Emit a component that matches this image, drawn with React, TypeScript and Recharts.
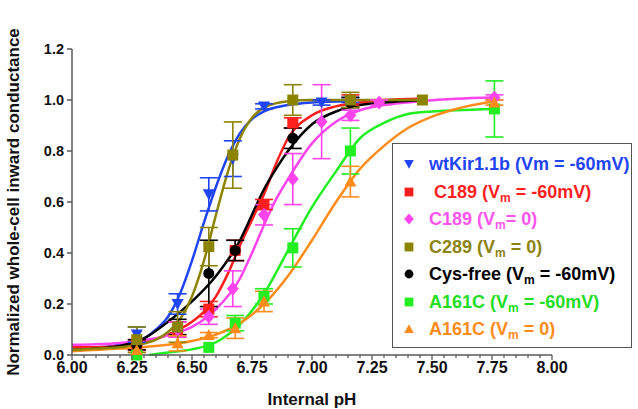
import React from "react";
import { ComposedChart, Line, Scatter, XAxis, YAxis, ErrorBar, Label } from "recharts";

const FONT = "'Liberation Sans', Arial, Helvetica, sans-serif";
const AXIS = "#5a5a5a";

// x axis tick labels (pH)
const majorTicks = [6, 6.25, 6.5, 6.75, 7, 7.25, 7.5, 7.75, 8];
const yTicks = [0, 0.2, 0.4, 0.6, 0.8, 1.0, 1.2];

// measured points: pH, normalized conductance, SEM
const wtPH = [6.27, 6.44, 6.57, 6.67, 6.8, 7.04, 7.16];
const wtG = [0.08, 0.2, 0.63, 0.77, 0.975, 0.99, 1.0];
const wtErr = [0.03, 0.04, 0.065, 0.07, 0.01, 0.01, 0.01];

const c189PH = [6.27, 6.44, 6.57, 6.68, 6.8, 6.92, 7.16];
const c189G = [0.04, 0.1, 0.18, 0.41, 0.59, 0.91, 1.0];
const c189Err = [0.02, 0.03, 0.03, 0.04, 0.02, 0.02, 0.02];

const c189v0PH = [6.27, 6.44, 6.57, 6.67, 6.8, 6.92, 7.04, 7.16, 7.28, 7.76];
const c189v0G = [0.04, 0.1, 0.15, 0.26, 0.55, 0.69, 0.915, 0.94, 0.99, 1.01];
const c189v0Err = [0.02, 0.03, 0.03, 0.07, 0.04, 0.1, 0.145, 0.02, 0.01, 0.01];

const c289PH = [6.27, 6.44, 6.57, 6.67, 6.92, 7.16, 7.46];
const c289G = [0.06, 0.11, 0.425, 0.784, 1.0, 1.0, 1.0];
const c289Err = [0.05, 0.06, 0.075, 0.13, 0.06, 0.03, 0.0];

const cysPH = [6.27, 6.44, 6.57, 6.68, 6.92, 7.16];
const cysG = [0.04, 0.11, 0.32, 0.41, 0.85, 0.99];
const cysErr = [0.02, 0.03, 0.13, 0.04, 0.04, 0.02];

const a161PH = [6.27, 6.57, 6.68, 6.8, 6.92, 7.16, 7.76];
const a161G = [0.0, 0.03, 0.125, 0.23, 0.42, 0.8, 0.965];
const a161Err = [0.0, 0.0, 0.03, 0.03, 0.075, 0.09, 0.11];

const a161v0PH = [6.27, 6.44, 6.57, 6.68, 6.8, 7.16, 7.76];
const a161v0G = [0.02, 0.046, 0.078, 0.105, 0.21, 0.68, 0.99];
const a161v0Err = [0.01, 0.03, 0.01, 0.04, 0.04, 0.06, 0.01];

// fitted curves
const wtFitPH = [6.0, 6.1, 6.2, 6.3, 6.35, 6.4, 6.45, 6.5, 6.55, 6.6, 6.65, 6.7, 6.75, 6.8, 6.9, 7.0, 7.16];
const wtFitG = [0.03, 0.03, 0.04, 0.065, 0.1, 0.15, 0.24, 0.37, 0.52, 0.66, 0.78, 0.87, 0.925, 0.955, 0.98, 0.99, 0.995];

const c189FitPH = [6.0, 6.1, 6.2, 6.3, 6.4, 6.5, 6.55, 6.6, 6.65, 6.7, 6.75, 6.8, 6.85, 6.9, 7.0, 7.1, 7.2, 7.3, 7.45];
const c189FitG = [0.03, 0.03, 0.035, 0.05, 0.08, 0.13, 0.17, 0.23, 0.32, 0.43, 0.53, 0.63, 0.75, 0.85, 0.94, 0.975, 0.99, 1.0, 1.005];

const c189v0FitPH = [6.0, 6.1, 6.2, 6.3, 6.4, 6.5, 6.6, 6.7, 6.75, 6.8, 6.85, 6.9, 7.0, 7.1, 7.2, 7.3, 7.45, 7.6, 7.76];
const c189v0FitG = [0.04, 0.042, 0.047, 0.058, 0.077, 0.11, 0.18, 0.3, 0.4, 0.51, 0.61, 0.69, 0.83, 0.915, 0.96, 0.98, 0.995, 1.005, 1.01];

const c289FitPH = [6.0, 6.1, 6.2, 6.3, 6.35, 6.4, 6.45, 6.5, 6.55, 6.6, 6.65, 6.7, 6.75, 6.8, 6.9, 7.0, 7.2, 7.46];
const c289FitG = [0.02, 0.025, 0.03, 0.045, 0.06, 0.09, 0.14, 0.23, 0.37, 0.55, 0.72, 0.85, 0.93, 0.97, 0.995, 1.0, 1.0, 1.0];

const cysFitPH = [6.0, 6.1, 6.2, 6.3, 6.4, 6.5, 6.6, 6.7, 6.75, 6.8, 6.85, 6.9, 7.0, 7.1, 7.2, 7.3, 7.46];
const cysFitG = [0.02, 0.025, 0.035, 0.065, 0.13, 0.21, 0.31, 0.45, 0.55, 0.65, 0.73, 0.8, 0.905, 0.955, 0.98, 0.99, 1.0];

const a161FitPH = [6.32, 6.4, 6.5, 6.6, 6.7, 6.8, 6.9, 7.0, 7.1, 7.2, 7.3, 7.4, 7.5, 7.6, 7.76];
const a161FitG = [0.0, 0.01, 0.022, 0.05, 0.12, 0.24, 0.41, 0.58, 0.72, 0.85, 0.91, 0.945, 0.955, 0.96, 0.965];

const a161v0FitPH = [6.0, 6.2, 6.4, 6.5, 6.6, 6.7, 6.8, 6.9, 7.0, 7.1, 7.2, 7.3, 7.4, 7.5, 7.6, 7.76];
const a161v0FitG = [0.015, 0.025, 0.04, 0.055, 0.08, 0.125, 0.2, 0.31, 0.45, 0.6, 0.73, 0.82, 0.89, 0.935, 0.965, 0.995];

const toPoints = (ph: number[], g: number[], err: number[]) =>
  ph.map((x, i) => ({ x, y: g[i], err: err[i] }));
const toCurve = (ph: number[], g: number[]) => ph.map((x, i) => ({ x, y: g[i] }));

type ShapeName = "tridown" | "square" | "diamond" | "circle" | "triangle";

function marker(shape: ShapeName, cx: number, cy: number, color: string, k = 1) {
  switch (shape) {
    case "tridown":
      return <polygon points={`${cx - 6 * k},${cy - 5 * k} ${cx + 6 * k},${cy - 5 * k} ${cx},${cy + 6 * k}`} fill={color} />;
    case "triangle":
      return <polygon points={`${cx - 6 * k},${cy + 5 * k} ${cx + 6 * k},${cy + 5 * k} ${cx},${cy - 6 * k}`} fill={color} />;
    case "diamond":
      return <polygon points={`${cx},${cy - 7 * k} ${cx + 6 * k},${cy} ${cx},${cy + 7 * k} ${cx - 6 * k},${cy}`} fill={color} />;
    case "circle":
      return <circle cx={cx} cy={cy} r={5.5 * k} fill={color} />;
    default:
      return <rect x={cx - 5.5 * k} y={cy - 5.5 * k} width={11 * k} height={11 * k} fill={color} />;
  }
}

const series = [
  { key: "wt", color: "#1f44f2", text: "#1f44f2", shape: "tridown" as ShapeName, pts: toPoints(wtPH, wtG, wtErr), fit: toCurve(wtFitPH, wtFitG) },
  { key: "c189", color: "#ff1f1f", text: "#ff1f1f", shape: "square" as ShapeName, pts: toPoints(c189PH, c189G, c189Err), fit: toCurve(c189FitPH, c189FitG) },
  { key: "c189v0", color: "#ff44ee", text: "#ff55ee", shape: "diamond" as ShapeName, pts: toPoints(c189v0PH, c189v0G, c189v0Err), fit: toCurve(c189v0FitPH, c189v0FitG) },
  { key: "cys", color: "#000000", text: "#000000", shape: "circle" as ShapeName, pts: toPoints(cysPH, cysG, cysErr), fit: toCurve(cysFitPH, cysFitG) },
  { key: "a161", color: "#22ee22", text: "#22dd22", shape: "square" as ShapeName, pts: toPoints(a161PH, a161G, a161Err), fit: toCurve(a161FitPH, a161FitG) },
  { key: "a161v0", color: "#ff8c1a", text: "#ff8c1a", shape: "triangle" as ShapeName, pts: toPoints(a161v0PH, a161v0G, a161v0Err), fit: toCurve(a161v0FitPH, a161v0FitG) },
  { key: "c289", color: "#8c8400", text: "#8c8410", shape: "square" as ShapeName, pts: toPoints(c289PH, c289G, c289Err), fit: toCurve(c289FitPH, c289FitG) },
];

const legendRows = [
  { key: "wt", label: <>wtKir1.1b (Vm = -60mV)</>, indent: 0 },
  { key: "c189", label: <>C189 (V<sub>m</sub> = -60mV)</>, indent: 5 },
  { key: "c189v0", label: <>C189 (V<sub>m</sub>= 0)</>, indent: 0 },
  { key: "c289", label: <>C289 (V<sub>m</sub> = 0)</>, indent: 0 },
  { key: "cys", label: <>Cys-free (V<sub>m</sub> = -60mV)</>, indent: 0 },
  { key: "a161", label: <>A161C (V<sub>m</sub> = -60mV)</>, indent: 0 },
  { key: "a161v0", label: <>A161C (V<sub>m</sub> = 0)</>, indent: 0 },
];

const xTicks: number[] = [];
for (let i = 0; i <= 40; i++) xTicks.push(Math.round((6 + i * 0.05) * 100) / 100);

function XTick(props: any) {
  const { x, y, payload } = props;
  const v = payload.value as number;
  const major = majorTicks.some((m) => Math.abs(m - v) < 1e-6);
  return (
    <g>
      <line x1={x} x2={x} y1={y} y2={y + (major ? 5 : 3)} stroke={AXIS} strokeWidth={1.3} />
      {major && (
        <text x={x} y={y + 18} textAnchor="middle" fontFamily={FONT} fontWeight="bold" fontSize={16} fill="#111">
          {v.toFixed(2)}
        </text>
      )}
    </g>
  );
}

function Legend() {
  return (
    <div
      style={{
        position: "absolute",
        left: 392,
        top: 143,
        width: 238,
        height: 203,
        border: "1.5px solid #555",
        background: "#fff",
        fontFamily: FONT,
        fontWeight: "bold",
        fontSize: 18,
      }}
    >
      {legendRows.map((r, i) => {
        const s = series.find((q) => q.key === r.key)!;
        return (
          <div
            key={r.key}
            style={{ position: "absolute", left: 8, top: 9 + i * 27.5, height: 22, display: "flex", alignItems: "center", whiteSpace: "nowrap" }}
          >
            <svg width={16} height={16} style={{ marginRight: 12 + r.indent }}>
              {marker(s.shape, 8, 8, s.color, 0.8)}
            </svg>
            <span style={{ color: s.text, lineHeight: "18px" }}>{r.label}</span>
          </div>
        );
      })}
      <style>{`sub{font-size:12px;vertical-align:-4px;line-height:0}`}</style>
    </div>
  );
}

export default function App() {
  return (
    <div style={{ position: "absolute", left: 0, top: 0, width: 638, height: 409 }}>
      <ComposedChart width={638} height={409} margin={{ top: 49, right: 86, bottom: 0, left: 12 }}>
        <XAxis
          type="number"
          dataKey="x"
          domain={[6, 8]}
          ticks={xTicks}
          interval={0}
          tick={<XTick />}
          tickLine={false}
          tickSize={0}
          tickMargin={0}
          height={54}
          stroke={AXIS}
          strokeWidth={1.5}
        >
          <Label
            content={() => (
              <text x={312} y={405} textAnchor="middle" fontFamily={FONT} fontWeight="bold" fontSize={17} fill="#111">
                Internal pH
              </text>
            )}
          />
        </XAxis>
        <YAxis
          type="number"
          dataKey="y"
          domain={[0, 1.2]}
          ticks={yTicks}
          interval={0}
          width={60}
          tickSize={5}
          tickMargin={3}
          tickFormatter={(v: number) => v.toFixed(1)}
          tick={{ fontFamily: FONT, fontWeight: "bold", fontSize: 14.5, fill: "#111" }}
          stroke={AXIS}
          strokeWidth={1.5}
        >
          <Label
            content={() => (
              <text
                x={13}
                y={202}
                transform="rotate(-90 13 202)"
                textAnchor="middle"
                dominantBaseline="central"
                fontFamily={FONT}
                fontWeight="bold"
                fontSize={17}
                fill="#111"
              >
                Normalized whole-cell inward conductance
              </text>
            )}
          />
        </YAxis>
        {series.map((s) => (
          <Line
            key={s.key + "-fit"}
            data={s.fit}
            dataKey="y"
            type="monotone"
            stroke={s.color}
            strokeWidth={2.5}
            dot={false}
            isAnimationActive={false}
          />
        ))}
        {series.map((s) => (
          <Scatter
            key={s.key + "-pts"}
            data={s.pts}
            dataKey="y"
            isAnimationActive={false}
            shape={(p: any) => marker(s.shape, p.cx, p.cy, s.color)}
          >
            <ErrorBar dataKey="err" direction="y" width={9} stroke={s.color} strokeWidth={1.6} />
          </Scatter>
        ))}
      </ComposedChart>
      <Legend />
    </div>
  );
}
